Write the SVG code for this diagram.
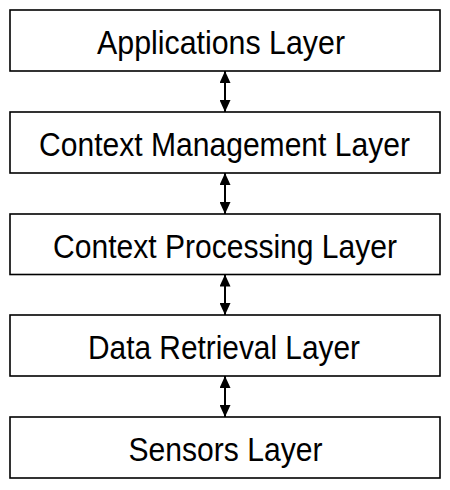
<svg xmlns="http://www.w3.org/2000/svg" width="450" height="490" viewBox="0 0 450 490">
<style>
.box{fill:#fff;stroke:#000;stroke-width:1.6}
.lbl{font-family:"Liberation Sans",Arial,sans-serif;font-size:34px;fill:#000;text-anchor:middle}
.conn{stroke:#000;stroke-width:2;fill:none;marker-start:url(#ah);marker-end:url(#ah)}
</style>
<defs>
<marker id="ah" viewBox="0 0 12 11" refX="12" refY="5.5" markerWidth="12" markerHeight="11" markerUnits="userSpaceOnUse" orient="auto-start-reverse">
<path d="M0,0 L12,5.5 L0,11 Z" fill="#000"/>
</marker>
</defs>
<rect width="450" height="490" fill="#fff"/>
<g id="connectors">
<line class="conn" x1="225" y1="71" x2="225" y2="112"/>
<line class="conn" x1="225" y1="173" x2="225" y2="214"/>
<line class="conn" x1="225" y1="274.5" x2="225" y2="315"/>
<line class="conn" x1="225" y1="376" x2="225" y2="417"/>
</g>
<g id="applications">
<rect class="box" x="10" y="10" width="430" height="61"/>
<text class="lbl" transform="translate(221,53.5) scale(0.885,1)" x="0" y="0" textLength="280.2" lengthAdjust="spacingAndGlyphs">Applications Layer</text>
</g>
<g id="context-management">
<rect class="box" x="10" y="112" width="430" height="61"/>
<text class="lbl" transform="translate(224.5,155.5) scale(0.885,1)" x="0" y="0" textLength="419.2" lengthAdjust="spacingAndGlyphs">Context Management Layer</text>
</g>
<g id="context-processing">
<rect class="box" x="10" y="214" width="430" height="60.5"/>
<text class="lbl" transform="translate(225,257.5) scale(0.885,1)" x="0" y="0" textLength="388.7" lengthAdjust="spacingAndGlyphs">Context Processing Layer</text>
</g>
<g id="data-retrieval">
<rect class="box" x="10" y="315" width="430" height="61"/>
<text class="lbl" transform="translate(224,358.5) scale(0.885,1)" x="0" y="0" textLength="307.3" lengthAdjust="spacingAndGlyphs">Data Retrieval Layer</text>
</g>
<g id="sensors">
<rect class="box" x="10" y="417" width="430" height="61"/>
<text class="lbl" transform="translate(225.5,460.5) scale(0.885,1)" x="0" y="0" textLength="219.2" lengthAdjust="spacingAndGlyphs">Sensors Layer</text>
</g>
</svg>
